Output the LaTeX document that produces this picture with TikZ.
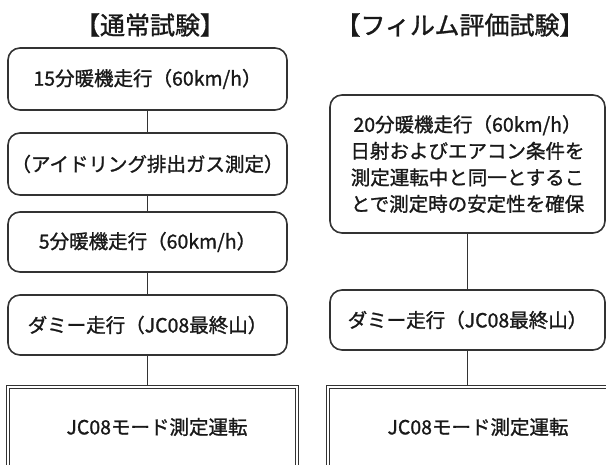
\documentclass[tikz,border=0pt]{standalone}
\usepackage{fontspec}
\setmainfont[FakeBold=1.2]{Noto Sans CJK JP}
\begin{document}
\begin{tikzpicture}[x=1pt,y=-1pt,
  txt/.style={font=\fontsize{19.5}{26.5}\selectfont,text=black!90,align=center,inner sep=0pt},
  rbox/.style={txt,draw=black!80,line width=1.6pt,rounded corners=12pt},
  dbox/.style={txt,draw=black!80,double,double distance=2.2pt,line width=1.1pt},
  ttl/.style={font=\fontsize{25}{30}\selectfont,text=black!90,inner sep=0pt},
  link/.style={draw=black!80,line width=1.5pt}]
\useasboundingbox (0,0) rectangle (606,465);
\clip (0,0) rectangle (606,465);
% left column
\node[ttl] (lt) at (150,25) {【通常試験】};
\node[rbox,minimum width=279pt,minimum height=62pt] (l1) at (147.5,79) {15分暖機走行（60km/h）};
\node[rbox,minimum width=279pt,minimum height=62pt] (l2) at (147.5,164) {（アイドリング排出ガス測定）};
\node[rbox,minimum width=279pt,minimum height=60pt] (l3) at (147.5,242) {5分暖機走行（60km/h）};
\node[rbox,minimum width=279pt,minimum height=60pt] (l4) at (147.5,325) {ダミー走行（JC08最終山）};
\node[dbox,minimum width=289pt,minimum height=120pt] (l5) at (152.5,447) {};
\node[txt] (l5t) at (157,427) {JC08モード測定運転};
\draw[link] (l1.south) -- (l2.north);
\draw[link] (l2.south) -- (l3.north);
\draw[link] (l3.south) -- (l4.north);
\draw[link] (l4.south) -- (l4.south |- l5.north);
% right column
\node[ttl] (rt) at (460,25) {【フィルム評価試験】};
\node[rbox,minimum width=275pt,minimum height=138pt] (r1) at (467.5,164) {20分暖機走行（60km/h）\\日射およびエアコン条件を\\測定運転中と同一とするこ\\とで測定時の安定性を確保};
\node[rbox,minimum width=275pt,minimum height=60pt] (r2) at (467.5,320) {ダミー走行（JC08最終山）};
\node[dbox,minimum width=300pt,minimum height=120pt] (r3) at (478,447) {};
\node[txt] (r3t) at (478,427) {JC08モード測定運転};
\draw[link] (r1.south) -- (r2.north);
\draw[link] (r2.south) -- (r2.south |- r3.north);
\end{tikzpicture}
\end{document}
